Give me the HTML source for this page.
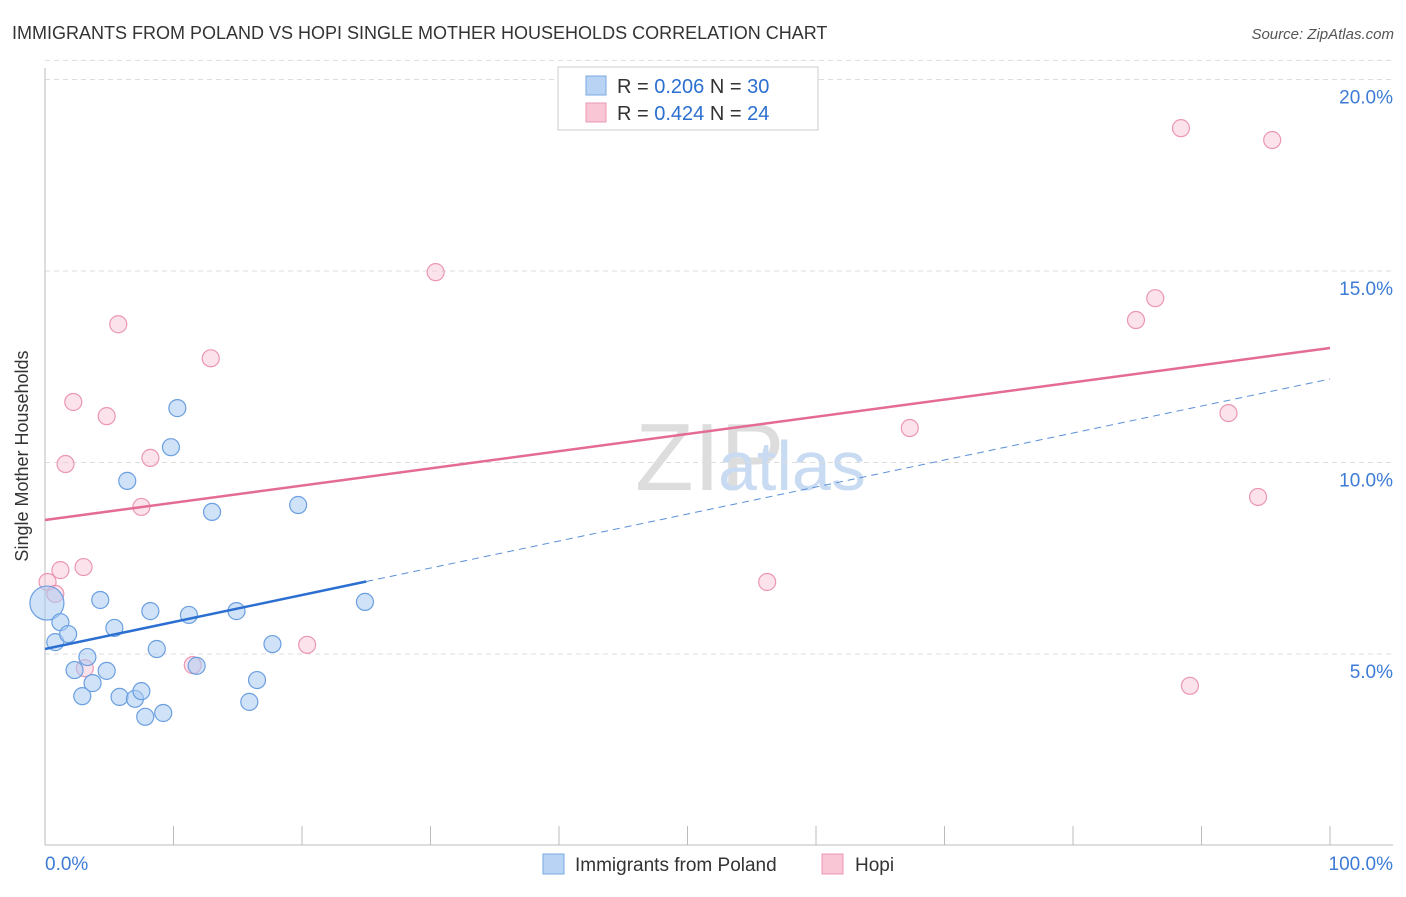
<!DOCTYPE html>
<html><head><meta charset="utf-8"><style>
body{margin:0;background:#fff;font-family:"Liberation Sans",sans-serif;}
svg text{font-family:"Liberation Sans",sans-serif;}
</style></head><body>
<svg width="1406" height="892" id="chart">
<text x="12" y="39" font-size="18" fill="#333">IMMIGRANTS FROM POLAND VS HOPI SINGLE MOTHER HOUSEHOLDS CORRELATION CHART</text>
<text x="1394" y="39" font-size="15" fill="#555" text-anchor="end" font-style="italic">Source: ZipAtlas.com</text>
<text x="28" y="456" font-size="18" fill="#333" text-anchor="middle" transform="rotate(-90 28 456)">Single Mother Households</text>
<text x="635" y="490" font-size="96" fill="#ddd" font-family="Liberation Serif">ZIP</text>
<text x="718" y="490" font-size="70" fill="#c9dbf2">atlas</text>
<g id="grid"></g><g id="axes"></g><g id="marks"></g>
<g>
<rect x="558" y="67" width="260" height="63" fill="#fff" stroke="#ccc"/>
<rect x="586" y="76" width="20" height="19" fill="#b8d3f4" stroke="#7aa8e0"/>
<rect x="586" y="103" width="20" height="19" fill="#f9c6d6" stroke="#eb97b2"/>
<text x="617" y="93" font-size="20" fill="#333">R = <tspan fill="#2b6fd1">0.206</tspan>   N = <tspan fill="#2b6fd1">30</tspan></text>
<text x="617" y="120" font-size="20" fill="#333">R = <tspan fill="#2b6fd1">0.424</tspan>   N = <tspan fill="#2b6fd1">24</tspan></text>
</g>
<g>
<rect x="543" y="854" width="21" height="20" fill="#b8d3f4" stroke="#7aa8e0"/>
<text x="575" y="871" font-size="19" fill="#333">Immigrants from Poland</text>
<rect x="822" y="854" width="21" height="20" fill="#f9c6d6" stroke="#eb97b2"/>
<text x="855" y="871" font-size="19" fill="#333">Hopi</text>
</g>
</svg>
<script>
const yTicks=[5,10,15,20];
const yTickLabels=["5.0%","10.0%","15.0%","20.0%"];
const xTickCount=10;
const blueX=[0.15,0.8,1.2,1.8,2.3,2.9,3.3,3.7,4.3,4.8,5.4,5.8,6.4,7.0,7.5,7.8,8.2,8.7,9.2,9.8,10.3,11.2,11.8,13.0,14.9,15.9,16.5,17.7,19.7,24.9];
const blueY=[6.33,5.31,5.83,5.52,4.58,3.90,4.92,4.24,6.41,4.56,5.68,3.88,9.52,3.83,4.03,3.36,6.12,5.13,3.46,10.40,11.42,6.02,4.69,8.71,6.12,3.75,4.32,5.26,8.89,6.36];
const pinkX=[0.2,0.8,1.2,1.6,2.2,3.0,3.1,4.8,5.7,7.5,8.2,11.5,12.9,20.4,30.4,56.2,67.3,84.9,86.4,88.4,89.1,92.1,94.4,95.5];
const pinkY=[6.88,6.57,7.19,9.96,11.58,7.27,4.63,11.21,13.61,8.84,10.12,4.71,12.72,5.24,14.97,6.88,10.90,13.72,14.29,18.73,4.17,11.29,9.10,18.42];
const blueTrend=[5.13,12.18];
const pinkTrend=[8.50,12.99];
const blueSolidEnd=25;
const NS="http://www.w3.org/2000/svg";
const X=v=>45+v*12.85, Y=v=>845.5-v*38.3;
function mk(t,a,p){const e=document.createElementNS(NS,t);for(const k in a)e.setAttribute(k,a[k]);p.appendChild(e);return e;}
const grid=document.getElementById('grid'),axes=document.getElementById('axes'),marks=document.getElementById('marks');
yTicks.forEach((v,i)=>{
 const l=mk('line',{x1:45,x2:1393,y1:Y(v),y2:Y(v),stroke:'#ddd','stroke-dasharray':'5,4'},grid);
 
 
 const t=mk('text',{x:1393,y:Y(v)+24,'font-size':19,fill:'#3d7bd6','text-anchor':'end'},axes);
 t.textContent=yTickLabels[i];
 
 
});
const tg=mk('line',{x1:45,x2:1393,y1:Y(20.5),y2:Y(20.5),stroke:'#ddd','stroke-dasharray':'5,4'},grid);


const xa=mk('line',{x1:45,x2:1393,y1:845,y2:845,stroke:'#bbb'},axes);


const ya=mk('line',{x1:45,x2:45,y1:68,y2:845,stroke:'#bbb'},axes);


for(let i=0;i<=xTickCount;i++){const x=X(i*100/xTickCount);
 const t=mk('line',{x1:x,x2:x,y1:826,y2:845,stroke:'#bbb'},axes);
 
 }
const l0=mk('text',{x:45,y:870,'font-size':19,fill:'#3d7bd6'},axes);l0.textContent='0.0%';


const l1=mk('text',{x:1393,y:870,'font-size':19,fill:'#3d7bd6','text-anchor':'end'},axes);l1.textContent='100.0%';


function dots(xs,ys,fill,stroke,name){xs.forEach((x,i)=>{
 const c=mk('circle',{cx:X(x),cy:Y(ys[i]),r:(name==='blue-point'&&i===0)?17:8.5,fill:fill,stroke:stroke,'stroke-width':1.2},marks);
 
 });}
dots(pinkX,pinkY,'rgba(249,190,210,0.45)','#eb97b2','pink-point');
dots(blueX,blueY,'rgba(170,202,242,0.55)','#6a9fe0','blue-point');
const bt=v=>blueTrend[0]+(blueTrend[1]-blueTrend[0])*v/100;
const b1=mk('line',{x1:X(0),y1:Y(bt(0)),x2:X(blueSolidEnd),y2:Y(bt(blueSolidEnd)),stroke:'#2b6fd1','stroke-width':2.5},marks);


const b2=mk('line',{x1:X(blueSolidEnd),y1:Y(bt(blueSolidEnd)),x2:X(100),y2:Y(bt(100)),stroke:'#5a8fd8','stroke-width':1,'stroke-dasharray':'7,5'},marks);


const p1=mk('line',{x1:X(0),y1:Y(pinkTrend[0]),x2:X(100),y2:Y(pinkTrend[1]),stroke:'#e46b94','stroke-width':2.5},marks);


</script>
</body></html>
